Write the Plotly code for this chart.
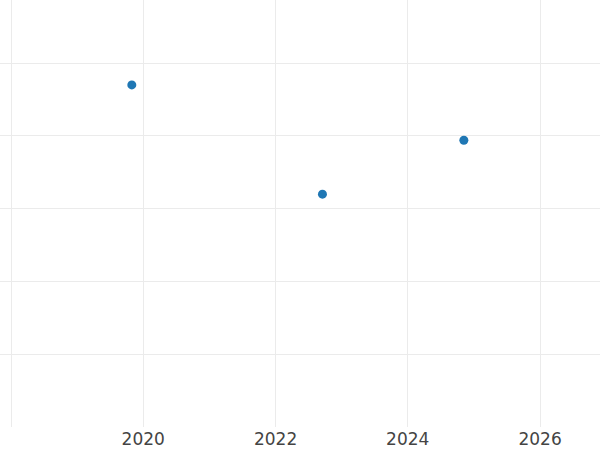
import plotly.graph_objects as go

dates = ["2019-10-30", "2022-09-17", "2024-11-06"]
values = [4.70, 3.20, 3.94]
tick_vals = ["2018-01-01", "2020-01-01", "2022-01-01", "2024-01-01", "2026-01-01"]
tick_text = ["", "2020", "2022", "2024", "2026"]

fig = go.Figure(go.Scatter(
    x=dates, y=values, mode="markers",
    marker=dict(color="#1f77b4", size=9),
))
fig.update_layout(
    width=600, height=450,
    margin=dict(l=0, r=0, t=0, b=23),
    paper_bgcolor="white", plot_bgcolor="white",
    showlegend=False,
    font=dict(family="DejaVu Sans", color="#444444"),
)
fig.update_xaxes(
    type="date", range=["2017-11-01", "2026-11-28"],
    tickvals=tick_vals, ticktext=tick_text,
    showgrid=True, gridcolor="#ebebeb", gridwidth=1,
    zeroline=False, showline=False, ticks="",
    tickfont=dict(size=17, color="#444444"),
)
fig.update_yaxes(
    range=[0.003, 5.866], dtick=1, tick0=0,
    showgrid=True, gridcolor="#ebebeb", gridwidth=1,
    zeroline=False, showline=False, showticklabels=False, ticks="",
)
fig.write_html("out.html", config={"displayModeBar": False},
               post_script="document.body.style.margin='0';")
